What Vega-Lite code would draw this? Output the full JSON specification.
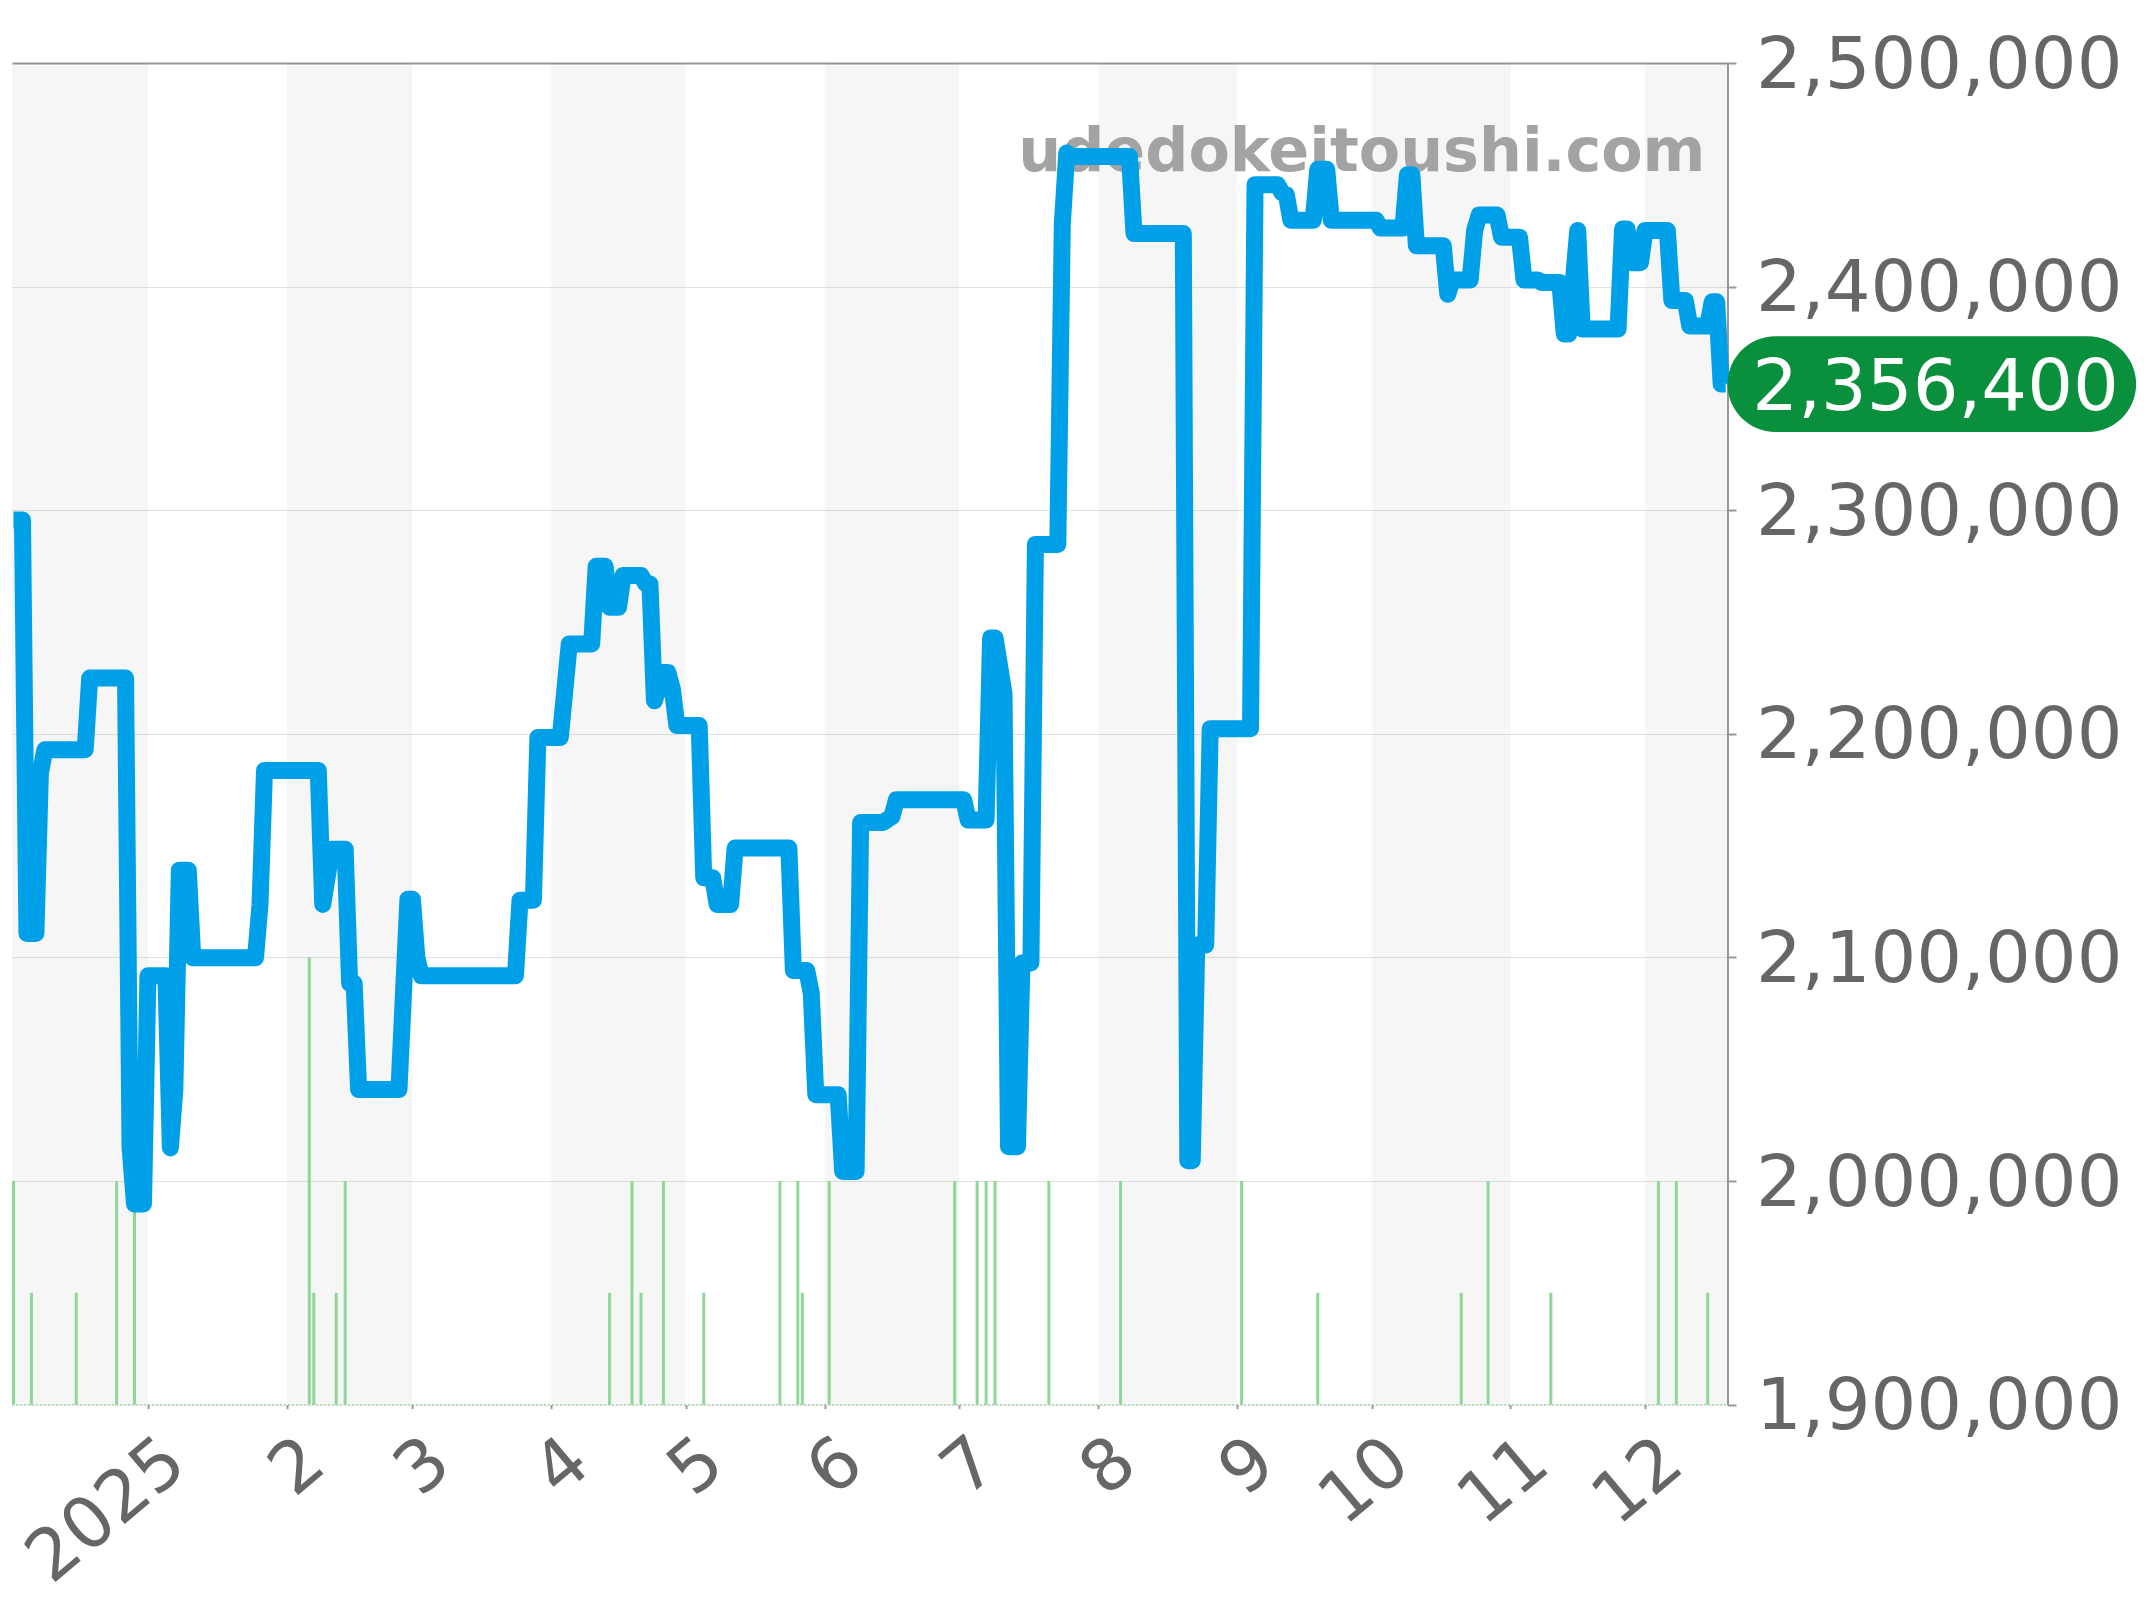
{
  "$schema": "https://vega.github.io/schema/vega-lite/v6.json",
  "description": "Watch price over 2025 with daily listing counts",
  "width": 1715.5,
  "height": 1341.6,
  "autosize": {"type": "none"},
  "padding": {"left": 12, "top": 63, "right": 416.5, "bottom": 195.4},
  "background": "#ffffff",
  "view": {"stroke": null},
  "config": {"font": "DejaVu Sans"},
  "datasets": {
    "price": [
      {"d":"2024-12-02","p":2295600},{"d":"2024-12-04","p":2295600},{"d":"2024-12-05","p":2110700},{"d":"2024-12-07","p":2110700},
      {"d":"2024-12-08","p":2182400},{"d":"2024-12-09","p":2192900},{"d":"2024-12-18","p":2192900},{"d":"2024-12-19","p":2224900},
      {"d":"2024-12-27","p":2224900},{"d":"2024-12-28","p":2015300},{"d":"2024-12-29","p":1989700},{"d":"2024-12-31","p":1989700},
      {"d":"2025-01-01","p":2091800},{"d":"2025-01-05","p":2091800},{"d":"2025-01-06","p":2014800},{"d":"2025-01-07","p":2040900},
      {"d":"2025-01-08","p":2139000},{"d":"2025-01-10","p":2139000},{"d":"2025-01-11","p":2099800},{"d":"2025-01-25","p":2099800},
      {"d":"2025-01-26","p":2123700},{"d":"2025-01-27","p":2183600},{"d":"2025-02-08","p":2183600},{"d":"2025-02-09","p":2123700},
      {"d":"2025-02-11","p":2148400},{"d":"2025-02-14","p":2148400},{"d":"2025-02-15","p":2088400},{"d":"2025-02-16","p":2088400},
      {"d":"2025-02-17","p":2040900},{"d":"2025-02-26","p":2040900},{"d":"2025-02-28","p":2126000},{"d":"2025-03-01","p":2126000},
      {"d":"2025-03-02","p":2099800},{"d":"2025-03-03","p":2091800},{"d":"2025-03-24","p":2091800},{"d":"2025-03-25","p":2125600},
      {"d":"2025-03-28","p":2125600},{"d":"2025-03-29","p":2198400},{"d":"2025-04-03","p":2198400},{"d":"2025-04-05","p":2240200},
      {"d":"2025-04-10","p":2240200},{"d":"2025-04-11","p":2274900},{"d":"2025-04-13","p":2274900},{"d":"2025-04-14","p":2256600},
      {"d":"2025-04-16","p":2256600},{"d":"2025-04-17","p":2270800},{"d":"2025-04-21","p":2270800},{"d":"2025-04-22","p":2267300},
      {"d":"2025-04-23","p":2267000},{"d":"2025-04-24","p":2214800},{"d":"2025-04-26","p":2227400},{"d":"2025-04-27","p":2227400},
      {"d":"2025-04-28","p":2220000},{"d":"2025-04-29","p":2203700},{"d":"2025-05-04","p":2203700},{"d":"2025-05-05","p":2135600},
      {"d":"2025-05-07","p":2135600},{"d":"2025-05-08","p":2123700},{"d":"2025-05-11","p":2123700},{"d":"2025-05-12","p":2148900},
      {"d":"2025-05-24","p":2148900},{"d":"2025-05-25","p":2094100},{"d":"2025-05-28","p":2094100},{"d":"2025-05-29","p":2083800},
      {"d":"2025-05-30","p":2038600},{"d":"2025-06-04","p":2038600},{"d":"2025-06-05","p":2004300},{"d":"2025-06-08","p":2004300},
      {"d":"2025-06-09","p":2160300},{"d":"2025-06-14","p":2160300},{"d":"2025-06-16","p":2163000},{"d":"2025-06-17","p":2170500},
      {"d":"2025-07-02","p":2170500},{"d":"2025-07-03","p":2161400},{"d":"2025-07-07","p":2161400},{"d":"2025-07-08","p":2242900},
      {"d":"2025-07-09","p":2242900},{"d":"2025-07-11","p":2218000},{"d":"2025-07-12","p":2015300},{"d":"2025-07-14","p":2015300},
      {"d":"2025-07-15","p":2097500},{"d":"2025-07-17","p":2097500},{"d":"2025-07-18","p":2284700},{"d":"2025-07-23","p":2284700},
      {"d":"2025-07-24","p":2427900},{"d":"2025-07-25","p":2459800},{"d":"2025-07-26","p":2458200},{"d":"2025-08-08","p":2458200},
      {"d":"2025-08-09","p":2423700},{"d":"2025-08-20","p":2423700},{"d":"2025-08-21","p":2009100},{"d":"2025-08-22","p":2009100},
      {"d":"2025-08-23","p":2105500},{"d":"2025-08-25","p":2105500},{"d":"2025-08-26","p":2202300},{"d":"2025-09-04","p":2202300},
      {"d":"2025-09-05","p":2445600},{"d":"2025-09-10","p":2445600},{"d":"2025-09-11","p":2442000},{"d":"2025-09-12","p":2441000},
      {"d":"2025-09-13","p":2429700},{"d":"2025-09-18","p":2429700},{"d":"2025-09-19","p":2452500},{"d":"2025-09-21","p":2452500},
      {"d":"2025-09-22","p":2429700},{"d":"2025-10-02","p":2429700},{"d":"2025-10-03","p":2426200},{"d":"2025-10-08","p":2426200},
      {"d":"2025-10-09","p":2450000},{"d":"2025-10-10","p":2450000},{"d":"2025-10-11","p":2418300},{"d":"2025-10-17","p":2418300},
      {"d":"2025-10-18","p":2396600},{"d":"2025-10-19","p":2403000},{"d":"2025-10-23","p":2403000},{"d":"2025-10-24","p":2425100},
      {"d":"2025-10-25","p":2432000},{"d":"2025-10-29","p":2432000},{"d":"2025-10-30","p":2422100},{"d":"2025-11-03","p":2422100},
      {"d":"2025-11-04","p":2403000},{"d":"2025-11-07","p":2403000},{"d":"2025-11-08","p":2401800},{"d":"2025-11-12","p":2401800},
      {"d":"2025-11-13","p":2378800},{"d":"2025-11-14","p":2378800},{"d":"2025-11-16","p":2425100},{"d":"2025-11-17","p":2381000},
      {"d":"2025-11-25","p":2381000},{"d":"2025-11-26","p":2425800},{"d":"2025-11-27","p":2425800},{"d":"2025-11-28","p":2410700},
      {"d":"2025-11-30","p":2410700},{"d":"2025-12-01","p":2425100},{"d":"2025-12-06","p":2425100},{"d":"2025-12-07","p":2393800},
      {"d":"2025-12-10","p":2393800},{"d":"2025-12-11","p":2382400},{"d":"2025-12-15","p":2382400},{"d":"2025-12-16","p":2393200},
      {"d":"2025-12-17","p":2393200},{"d":"2025-12-18","p":2356400},{"d":"2025-12-19","p":2356400}
    ],
    "listings": [
      {"d":"2024-12-02","n":2},{"d":"2024-12-06","n":1},{"d":"2024-12-16","n":1},{"d":"2024-12-25","n":2},{"d":"2024-12-29","n":2},
      {"d":"2025-02-06","n":4},{"d":"2025-02-07","n":1},{"d":"2025-02-12","n":1},{"d":"2025-02-14","n":2},{"d":"2025-04-14","n":1},
      {"d":"2025-04-19","n":2},{"d":"2025-04-21","n":1},{"d":"2025-04-26","n":2},{"d":"2025-05-05","n":1},{"d":"2025-05-22","n":2},
      {"d":"2025-05-26","n":2},{"d":"2025-05-27","n":1},{"d":"2025-06-02","n":2},{"d":"2025-06-30","n":2},{"d":"2025-07-05","n":2},
      {"d":"2025-07-07","n":2},{"d":"2025-07-09","n":2},{"d":"2025-07-21","n":2},{"d":"2025-08-06","n":2},{"d":"2025-09-02","n":2},
      {"d":"2025-09-19","n":1},{"d":"2025-10-21","n":1},{"d":"2025-10-27","n":2},{"d":"2025-11-10","n":1},{"d":"2025-12-04","n":2},
      {"d":"2025-12-08","n":2},{"d":"2025-12-15","n":1}
    ]
  },
  "encoding": {
    "x": {
      "field": "d",
      "type": "temporal",
      "scale": {"type": "utc", "domain": ["2024-12-01T16:00:00Z", "2025-12-19T10:00:00Z"]},
      "axis": {
        "title": null,
        "grid": false,
        "domain": false,
        "tickCount": {"interval": "month"},
        "tickColor": "#999999",
        "tickWidth": 2,
        "tickSize": 4,
        "labelAngle": -40,
        "labelAlign": "right",
        "labelBaseline": "middle",
        "labelFontSize": 71,
        "labelColor": "#666666",
        "labelPadding": 44,
        "labelOverlap": false,
        "labelFlush": false,
        "labelBound": false,
        "labelLimit": 0,
        "labelOffset": 28,
        "labelExpr": "utcmonth(datum.value) == 0 ? '2025' : '' + (utcmonth(datum.value) + 1)"
      }
    }
  },
  "resolve": {"scale": {"y": "independent"}},
  "layer": [
    {
      "data": {"values": [
        {"d":"2024-12-01T16:00:00Z","e":"2025-01-01"},
        {"d":"2025-02-01","e":"2025-03-01"},
        {"d":"2025-04-01","e":"2025-05-01"},
        {"d":"2025-06-01","e":"2025-07-01"},
        {"d":"2025-08-01","e":"2025-09-01"},
        {"d":"2025-10-01","e":"2025-11-01"},
        {"d":"2025-12-01","e":"2025-12-19T10:00:00Z"}
      ]},
      "mark": {"type": "rect", "color": "#000000", "opacity": 0.036},
      "encoding": {"x2": {"field": "e"}}
    },
    {
      "data": {"name": "listings"},
      "mark": {"type": "rule", "color": "#90d699", "strokeWidth": 3},
      "encoding": {
        "y": {"field": "n", "type": "quantitative", "scale": {"domain": [0, 12], "nice": false, "zero": false}, "axis": null},
        "y2": {"datum": 0}
      }
    },
    {
      "data": {"values": [{"d":"2024-12-01T16:00:00Z","e":"2025-12-19T10:00:00Z","n":0}]},
      "mark": {"type": "rule", "color": "#90d699", "strokeWidth": 1, "strokeDash": [2, 2]},
      "encoding": {
        "x2": {"field": "e"},
        "y": {"field": "n", "type": "quantitative", "scale": {"domain": [0, 12], "nice": false, "zero": false}, "axis": null}
      }
    },
    {
      "data": {"values": [{"d":"2025-12-14T12:00:00Z","p":2451700,"t":"udedokeitoushi.com"}]},
      "mark": {"type": "text", "align": "right", "baseline": "alphabetic", "font": "DejaVu Sans", "fontWeight": "bold", "fontSize": 60.3, "color": "#a3a3a3"},
      "encoding": {
        "y": {"field": "p", "type": "quantitative", "scale": {"domain": [1900000, 2500000], "nice": false, "zero": false}, "axis": null},
        "text": {"field": "t"}
      }
    },
    {
      "data": {"name": "price"},
      "mark": {"type": "line", "color": "#00a0e9", "strokeWidth": 17, "strokeJoin": "round", "strokeCap": "butt"},
      "encoding": {
        "y": {
          "field": "p",
          "type": "quantitative",
          "scale": {"domain": [1900000, 2500000], "nice": false, "zero": false},
          "axis": {
            "title": null,
            "orient": "right",
            "values": [1900000, 2000000, 2100000, 2200000, 2300000, 2400000, 2500000],
            "format": ",d",
            "grid": true,
            "gridColor": {"condition": {"test": "datum.value == 2500000", "value": "#999999"}, "value": "#e2e2e2"},
            "gridWidth": {"condition": {"test": "datum.value == 2500000", "value": 2}, "value": 1},
            "domain": true,
            "domainColor": "#999999",
            "domainWidth": 2,
            "tickColor": "#999999",
            "tickWidth": 2,
            "tickSize": 8.5,
            "labelFontSize": 72,
            "labelColor": "#666666",
            "labelPadding": 19.5,
            "labelOffset": 2,
            "labelAlign": "left",
            "labelBaseline": "middle",
            "labelBound": false,
            "labelFlush": false,
            "labelOverlap": false,
            "labelLimit": 0
          }
        }
      }
    },
    {
      "data": {"values": [{"d":"2025-12-19T10:00:00Z","e":"2026-03-20T14:00:00Z","lo":2334950,"hi":2377850}]},
      "mark": {"type": "rect", "color": "#0a8f3c", "cornerRadius": 48},
      "encoding": {
        "x2": {"field": "e"},
        "y": {"field": "lo", "type": "quantitative", "scale": {"domain": [1900000, 2500000], "nice": false, "zero": false}, "axis": null},
        "y2": {"field": "hi"}
      }
    },
    {
      "data": {"values": [{"d":"2026-02-03T20:00:00Z","p":2356400}]},
      "mark": {"type": "text", "align": "center", "baseline": "middle", "dy": 4, "font": "DejaVu Sans", "fontSize": 72, "color": "#ffffff"},
      "encoding": {
        "y": {"field": "p", "type": "quantitative", "scale": {"domain": [1900000, 2500000], "nice": false, "zero": false}, "axis": null},
        "text": {"field": "p", "type": "quantitative", "format": ",d"}
      }
    }
  ]
}
